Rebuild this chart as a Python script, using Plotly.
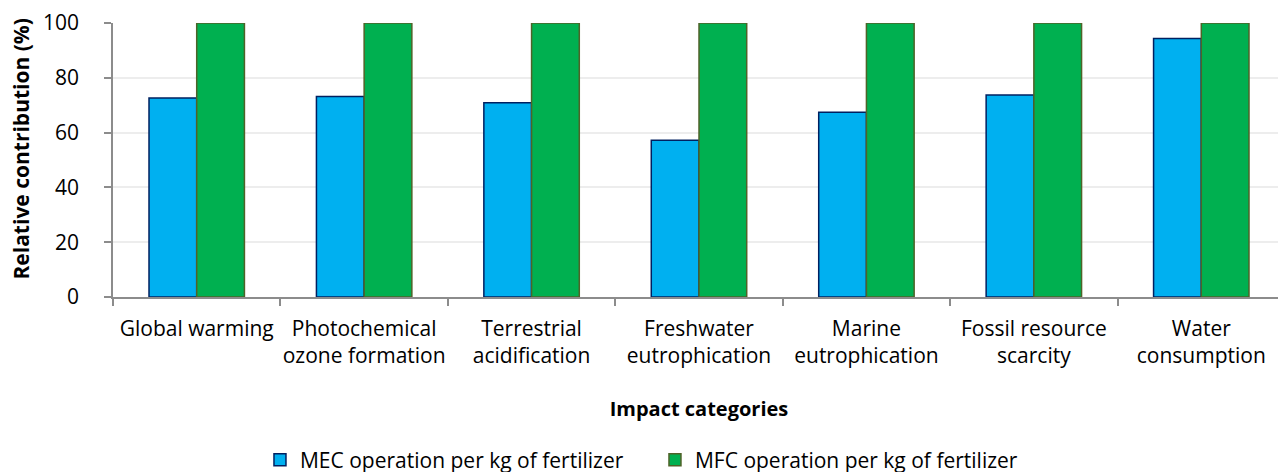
import plotly.graph_objects as go

categories = ["Global warming", "Photochemical<br>ozone formation", "Terrestrial<br>acidification",
              "Freshwater<br>eutrophication", "Marine<br>eutrophication", "Fossil resource<br>scarcity",
              "Water<br>consumption"]
mec = [72.6, 73.2, 70.9, 57.2, 67.4, 73.7, 94.3]
mfc = [100, 100, 100, 100, 100, 100, 100]

FONT = "Open Sans, Calibri, sans-serif"

fig = go.Figure()
fig.add_trace(go.Bar(x=categories, y=mec, name="MEC operation per kg of fertilizer",
                     marker=dict(color="#00B0F0", line=dict(color="#002060", width=1.5))))
fig.add_trace(go.Bar(x=categories, y=mfc, name="MFC operation per kg of fertilizer",
                     marker=dict(color="#00B050", line=dict(color="#4F6228", width=1.5))))

# page body has an 8px margin, so everything is shifted by that
# (figure is a bit taller so the legend does not push the bottom margin)
fig.update_layout(
    width=1286, height=480,
    margin=dict(l=105, r=9, t=15, b=190),
    plot_bgcolor="white", paper_bgcolor="white",
    barmode="group", bargap=0.43, bargroupgap=0,
    font=dict(family=FONT, size=21, color="black"),
    legend=dict(orientation="h", x=0.1254, xanchor="left", y=-0.589, yanchor="middle",
                font=dict(size=21), entrywidth=350, entrywidthmode="pixels"),
)
fig.update_xaxes(
    title=dict(text="<b>Impact categories</b>", font=dict(size=20), standoff=34),
    automargin=False, tickangle=0,
    showline=True, linecolor="#8C8C8C", linewidth=1.5,
    ticks="outside", tickson="boundaries", ticklen=7, tickcolor="#8C8C8C", tickwidth=1.5,
    ticklabelstandoff=12, tickfont=dict(size=21),
)
fig.update_yaxes(
    automargin=False,
    range=[0, 100], dtick=20, showline=True, linecolor="#8C8C8C", linewidth=1.5,
    ticks="outside", ticklen=7, tickcolor="#8C8C8C", tickwidth=1.5, ticklabelstandoff=21,
    showgrid=True, gridcolor="#EDEDED", gridwidth=1.5, zeroline=False,
    tickfont=dict(size=21),
)
# y title as annotation so it sits where the reference has it
fig.add_annotation(text="<b>Relative contribution (%)</b>", textangle=-90,
                   xref="paper", yref="paper", x=-0.0785, y=0.542,
                   xanchor="center", yanchor="middle", showarrow=False,
                   font=dict(size=21))

fig.write_html("out.html")
